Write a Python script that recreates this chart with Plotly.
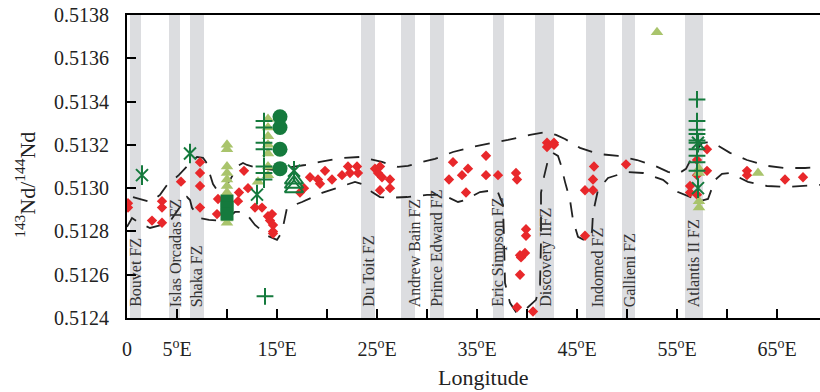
import plotly.graph_objects as go

# ---------------- data ----------------
red_lon = [0.1, 0.1, 2.5, 3.5, 3.5, 3.5, 5.4, 7.3, 7.3, 7.3, 7.3, 9.1, 9.0, 11.2, 11.1, 11.7,
           12.1, 12.8, 13.5, 14.1, 14.5, 14.3, 14.6, 14.6, 14.6, 17.3, 17.7, 18.3, 19.1, 19.3,
           19.8, 20.5, 21.5, 22.1, 22.3, 23.0, 23.1, 24.8, 25.3, 25.1, 25.5, 26.3, 25.3, 26.3,
           32.2, 32.6, 33.5, 34.1, 33.9, 35.9, 35.9, 37.1, 38.9, 39.0, 42.0, 42.7, 42.0, 42.7,
           39.9, 39.9, 39.3, 39.8, 39.4, 39.3, 39.0, 40.6, 46.7, 46.6, 45.8, 46.6, 45.8, 49.9,
           57.0, 58.0, 58.0, 57.0, 56.3, 56.3, 57.0, 62.0, 62.0, 65.8, 67.6]
red_val = [0.51293, 0.51291, 0.51285, 0.51294, 0.51291, 0.51284, 0.51303, 0.51312, 0.51307,
           0.51301, 0.51291, 0.51295, 0.51288, 0.51298, 0.51294, 0.51308, 0.51300, 0.51291,
           0.51291, 0.51287, 0.51288, 0.51285, 0.51283, 0.51280, 0.51279, 0.51298, 0.51300,
           0.51305, 0.51304, 0.51302, 0.51308, 0.51304, 0.51306, 0.51310, 0.51307, 0.51310,
           0.51307, 0.51309, 0.51310, 0.51307, 0.51305, 0.51304, 0.51299, 0.51300, 0.51304,
           0.51312, 0.51306, 0.51309, 0.51298, 0.51315, 0.51306, 0.51306, 0.51307, 0.51304,
           0.51321, 0.51321, 0.51319, 0.51320, 0.51281, 0.51278, 0.51269, 0.51270, 0.51268,
           0.51260, 0.51245, 0.51243, 0.51310, 0.51304, 0.51299, 0.51299, 0.51278, 0.51311,
           0.51313, 0.51318, 0.51308, 0.51306, 0.51301, 0.51298, 0.51297, 0.51308, 0.51306,
           0.51304, 0.51305]

tri_lon = [10.0, 10.0, 10.0, 10.0, 10.0, 10.0, 10.0, 10.0, 10.0, 10.0,
           14.1, 14.1, 14.1, 14.1, 14.1, 14.1, 14.1, 13.1,
           53.0, 57.2, 57.2, 57.2, 57.2, 63.1]
tri_val = [0.51320, 0.51318, 0.51310, 0.51307, 0.51304, 0.51301, 0.51298, 0.51295, 0.51286, 0.51284,
           0.51332, 0.51328, 0.51324, 0.51320, 0.51316, 0.51310, 0.51306, 0.51303,
           0.51372, 0.51309, 0.51307, 0.51294, 0.51291, 0.51307]

plus_lon = [13.7, 13.7, 13.7, 13.7, 13.7, 13.7, 13.7, 13.8,
            57.0, 57.0, 57.0, 57.0, 57.0, 57.0, 57.0, 57.0, 57.0, 57.0]
plus_val = [0.51331, 0.51328, 0.51321, 0.51318, 0.51310, 0.51307, 0.51304, 0.51250,
            0.51341, 0.51331, 0.51327, 0.51325, 0.51322, 0.51321, 0.51318, 0.51315, 0.51312, 0.51308]

star_lon = [1.5, 6.3, 13.0, 16.7, 57.1, 57.1]
star_val = [0.51306, 0.51316, 0.51297, 0.51308, 0.51321, 0.51300]

circ_lon = [15.3, 15.3, 15.3, 15.3]
circ_val = [0.51333, 0.51328, 0.51318, 0.51309]

sq_lon = [10.0, 10.0, 10.0]
sq_val = [0.51294, 0.51291, 0.51288]

otri_lon = [16.7, 16.7, 16.7]
otri_val = [0.51304, 0.51302, 0.51300]

upper_lon = [0.6, 2.4, 3.3, 4.0, 5.2, 6.3, 7.0, 7.6, 7.9, 8.3, 8.6, 9.0, 9.5, 10.3, 11.1, 11.6,
             12.0, 13.1, 14.6, 15.8, 17.8, 19.3, 21.6, 23.3, 24.5, 25.5, 27.1, 28.1, 29.1, 30.8,
             32.6, 34.5, 36.5, 38.1, 40.3, 42.0, 42.9, 43.8, 45.3, 47.1, 49.1, 51.0, 52.8, 54.1,
             55.1, 55.9, 56.6, 57.5, 58.5, 59.5, 60.3, 62.0, 64.0, 65.8, 67.8, 69.3]
upper_val = [0.512959, 0.512936, 0.512969, 0.513015, 0.513061, 0.513116, 0.513144, 0.513140,
             0.513121, 0.513061, 0.513019, 0.512992, 0.512982, 0.513038, 0.513103, 0.513116,
             0.513107, 0.513093, 0.513084, 0.513093, 0.513107, 0.513121, 0.513140, 0.513144,
             0.513130, 0.513121, 0.513098, 0.513103, 0.513116, 0.513135, 0.513167, 0.513190,
             0.513209, 0.513223, 0.513246, 0.513260, 0.513246, 0.513227, 0.513186, 0.513158,
             0.513149, 0.513130, 0.513103, 0.513075, 0.513066, 0.513089, 0.513153, 0.513209,
             0.513213, 0.513186, 0.513163, 0.513130, 0.513103, 0.513093, 0.513093, 0.513098]

lower_lon = [0.0, 0.5, 1.4, 2.3, 3.5, 4.4, 5.3, 6.0, 6.3, 6.5, 7.3, 8.2, 9.7, 10.8, 11.8, 12.8,
             14.1, 15.0, 15.5, 16.0, 17.5, 19.5, 21.0, 22.8, 23.5, 24.5, 25.3, 26.1, 28.0, 30.0,
             31.6, 33.1, 33.8, 35.3, 37.0, 37.6, 37.7, 37.8, 38.3, 38.9, 39.7, 40.9, 41.3, 41.4,
             41.4, 41.7, 42.1, 42.6, 43.1, 43.4, 43.8, 44.3, 44.6, 45.1, 45.9, 46.5, 46.6, 47.1,
             48.1, 50.0, 51.6, 53.6, 55.1, 56.5, 57.3, 58.1, 58.8, 59.5, 60.3, 62.1, 64.0, 66.0,
             67.8, 69.3]
lower_val = [0.512821, 0.512862, 0.512835, 0.512816, 0.512830, 0.512853, 0.512913, 0.512959,
             0.512945, 0.512909, 0.512862, 0.512853, 0.512848, 0.512890, 0.512890, 0.512830,
             0.512779, 0.512761, 0.512798, 0.512909, 0.512936, 0.512978, 0.513001, 0.513029,
             0.513019, 0.512982, 0.512959, 0.512955, 0.512959, 0.512969, 0.512969, 0.512936,
             0.512945, 0.512982, 0.512992, 0.512922, 0.512761, 0.512562, 0.512470, 0.512428,
             0.512433, 0.512484, 0.512553, 0.512761, 0.512978, 0.513052, 0.513130, 0.513163,
             0.513149, 0.513107, 0.513029, 0.512945, 0.512853, 0.512775, 0.512756, 0.512798,
             0.512885, 0.512992, 0.513047, 0.513075, 0.513070, 0.513038, 0.512982, 0.512955,
             0.512941, 0.512950, 0.513038, 0.513066, 0.513070, 0.513029, 0.513010, 0.513006,
             0.513010, 0.513015]

fz_names = ["Bouvet FZ", "Islas Orcadas FZ", "Shaka FZ", "Du Toit FZ", "Andrew Bain FZ",
            "Prince Edward FZ", "Eric Simpson FZ", "Discovery IIFZ", "Indomed FZ",
            "Gallieni FZ", "Atlantis II FZ"]
fz_start = [0.3, 4.2, 6.3, 23.4, 27.4, 30.3, 36.6, 40.8, 45.9, 49.5, 55.8]
fz_end = [1.4, 5.3, 7.7, 24.8, 28.8, 31.7, 37.7, 42.7, 47.8, 50.8, 57.6]
fz_label_lon = [0.9, 4.8, 6.9, 24.2, 28.7, 31.0, 37.1, 41.9, 47.0, 50.2, 56.6]

x_tickvals = [0, 5, 10, 15, 20, 25, 30, 35, 40, 45, 50, 55, 60, 65]
x_ticktext = ["0", "5<sup>o</sup>E", "", "15<sup>o</sup>E", "", "25<sup>o</sup>E", "",
              "35<sup>o</sup>E", "", "45<sup>o</sup>E", "", "55<sup>o</sup>E", "", "65<sup>o</sup>E"]

# ---------------- styles ----------------
RED = "#e8282b"
LGREEN = "#a9c46c"
DGREEN = "#157a3d"
FONT = "Liberation Serif"

fig = go.Figure()

for s, e in zip(fz_start, fz_end):
    fig.add_shape(type="rect", xref="x", yref="y", x0=s, x1=e, y0=0.5124, y1=0.5138,
                  fillcolor="#dcdde0", line_width=0, layer="below")

dash = "15px,12px"
fig.add_trace(go.Scatter(x=upper_lon, y=upper_val, mode="lines",
                         line=dict(color="#222222", width=1.8, dash=dash), hoverinfo="skip"))
fig.add_trace(go.Scatter(x=lower_lon, y=lower_val, mode="lines",
                         line=dict(color="#222222", width=1.8, dash=dash), hoverinfo="skip"))

fig.add_trace(go.Scatter(x=red_lon, y=red_val, mode="markers",
                         marker=dict(symbol="diamond", size=8, color=RED)))
fig.add_trace(go.Scatter(x=tri_lon, y=tri_val, mode="markers",
                         marker=dict(symbol="triangle-up", size=11, color=LGREEN)))
fig.add_trace(go.Scatter(x=sq_lon, y=sq_val, mode="markers",
                         marker=dict(symbol="square", size=13, color=DGREEN)))
fig.add_trace(go.Scatter(x=circ_lon, y=circ_val, mode="markers",
                         marker=dict(symbol="circle", size=15, color=DGREEN)))
fig.add_trace(go.Scatter(x=plus_lon, y=plus_val, mode="markers",
                         marker=dict(symbol="cross-thin-open", size=12, color=DGREEN,
                                     line=dict(color=DGREEN, width=2))))
fig.add_trace(go.Scatter(x=star_lon, y=star_val, mode="markers",
                         marker=dict(symbol="x-thin-open", size=12, color=DGREEN,
                                     line=dict(color=DGREEN, width=2))))
fig.add_trace(go.Scatter(x=star_lon, y=star_val, mode="markers",
                         marker=dict(symbol="line-ns-open", size=14, color=DGREEN,
                                     line=dict(color=DGREEN, width=2))))
fig.add_trace(go.Scatter(x=otri_lon, y=otri_val, mode="markers",
                         marker=dict(symbol="triangle-up-open", size=16, color=DGREEN,
                                     line=dict(color=DGREEN, width=2))))

annotations = []
for name, xl in zip(fz_names, fz_label_lon):
    annotations.append(dict(text=name, x=xl, y=0.51244, xref="x", yref="y",
                            xanchor="center", yanchor="bottom", textangle=-90,
                            showarrow=False, font=dict(family=FONT, size=16, color="#333333")))
annotations.append(dict(text="<sup>143</sup>Nd/<sup>144</sup>Nd", x=-0.147, y=0.44,
                        xref="paper", yref="paper", xanchor="center", yanchor="middle",
                        textangle=-90, showarrow=False, font=dict(family=FONT, size=22, color="#222")))
annotations.append(dict(text="Longitude", x=0.513, y=-0.198, xref="paper", yref="paper",
                        xanchor="center", yanchor="middle", showarrow=False,
                        font=dict(family=FONT, size=22, color="#222")))

fig.update_layout(
    width=820, height=392,
    margin=dict(l=127, r=0, t=15, b=74),
    paper_bgcolor="white", plot_bgcolor="white",
    showlegend=False,
    font=dict(family=FONT, color="#222"),
    annotations=annotations,
    xaxis=dict(range=[0, 69.3], tickvals=x_tickvals, ticktext=x_ticktext,
               ticks="inside", ticklen=9, tickwidth=2, tickcolor="black",
               showline=True, linewidth=2, linecolor="black", mirror=True,
               showgrid=False, zeroline=False, automargin=False,
               tickfont=dict(family=FONT, size=20, color="#222"),
               ticklabelstandoff=12, ticklabeloverflow="allow"),
    yaxis=dict(range=[0.5124, 0.5138], tickvals=[0.5124 + 0.0002 * i for i in range(8)],
               tickformat=".4f", ticks="inside", ticklen=9, tickwidth=2, tickcolor="black",
               showline=True, linewidth=2, linecolor="black",
               showgrid=False, zeroline=False, automargin=False,
               tickfont=dict(family=FONT, size=20, color="#222"),
               ticklabelstandoff=12, ticklabeloverflow="allow"),
)

# remove the browser's default 8px body margin so the figure fills the window
fig.write_html("out.html", config={"displayModeBar": False},
               post_script="document.body.style.margin='0';document.body.style.overflow='hidden';")
